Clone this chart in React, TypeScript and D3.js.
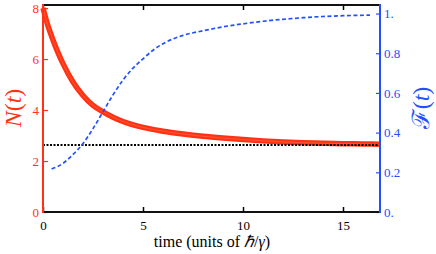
import React, { useEffect, useRef } from "react";
import * as d3 from "d3";

// N(t)
const nTimes = [0, 0.25, 0.5, 0.75, 1, 1.5, 2, 2.5, 3, 3.5, 4, 5, 6, 7, 8, 9, 10, 11, 12, 13, 14, 15, 16, 16.8];
const nValues = [8.0, 7.3, 6.75, 6.25, 5.82, 5.1, 4.57, 4.18, 3.93, 3.72, 3.55, 3.32, 3.17, 3.06, 2.97, 2.9, 2.84, 2.79, 2.75, 2.72, 2.7, 2.68, 2.67, 2.66];

// F(t), blue dashed curve
const fTimes = [0.43, 1, 1.5, 2, 2.5, 3, 3.5, 4, 4.5, 5, 5.5, 6, 7, 8, 9, 10, 11, 12, 13, 14, 15, 16.35];
const fValues = [0.217, 0.245, 0.29, 0.345, 0.42, 0.505, 0.59, 0.665, 0.725, 0.772, 0.815, 0.848, 0.89, 0.913, 0.933, 0.948, 0.961, 0.971, 0.979, 0.985, 0.989, 0.992];

// steady-state level (black dotted)
const nSteady = 2.63;

const xTicks = [0, 5, 10, 15];
const leftTicks = [0, 2, 4, 6, 8];
const rightTicks = [0, 0.2, 0.4, 0.6, 0.8, 1];
const rightTickLabels = ["0.", "0.2", "0.4", "0.6", "0.8", "1."];

const RED = "#ff3314";
const BLUE = "#2350ff";
const W = 436;
const H = 254;
const L = 43, R = 380, T = 5, B = 212;
const FONT = "'Liberation Serif', serif";

const App: React.FC = () => {
  const svgRef = useRef<SVGSVGElement>(null);

  useEffect(() => {
    const svg = d3.select(svgRef.current);
    svg.selectAll("*").remove();

    const x = d3.scaleLinear().domain([0, 16.85]).range([L, R]);
    const yL = d3.scaleLinear().domain([0, 8.12]).range([B, T]);
    const yR = d3.scaleLinear().domain([0, 1.043]).range([B, T]);

    const minorX = d3.range(0, 17, 1);

    // bottom axis
    const bottom = svg.append("g").attr("transform", `translate(0,${B})`);
    bottom.call(
      //@ts-ignore
      d3.axisBottom(x).tickValues(minorX).tickSize(-3).tickFormat(() => "")
    );
    bottom.call(
      //@ts-ignore
      d3.axisBottom(x).tickValues(xTicks).tickSize(-5).tickPadding(9).tickFormat((d) => `${d}`)
    );
    // top axis
    const top = svg.append("g").attr("transform", `translate(0,${T})`);
    top.call(
      //@ts-ignore
      d3.axisTop(x).tickValues(minorX).tickSize(-3).tickFormat(() => "")
    );
    top.call(
      //@ts-ignore
      d3.axisTop(x).tickValues(xTicks).tickSize(-5).tickFormat(() => "")
    );
    // left axis
    const left = svg.append("g").attr("transform", `translate(${L},0)`);
    left.call(
      //@ts-ignore
      d3.axisLeft(yL).tickValues(d3.range(0, 8.01, 0.5)).tickSize(-3).tickFormat(() => "")
    );
    left.call(
      //@ts-ignore
      d3.axisLeft(yL).tickValues(leftTicks).tickSize(-5).tickPadding(4).tickFormat((d) => `${d}`)
    );
    // right axis
    const right = svg.append("g").attr("transform", `translate(${R},0)`);
    right.call(
      //@ts-ignore
      d3.axisRight(yR).tickValues(d3.range(0, 1.001, 0.05)).tickSize(-2).tickFormat(() => "")
    );
    right.call(
      //@ts-ignore
      d3.axisRight(yR).tickValues(rightTicks).tickSize(-4).tickPadding(4)
        .tickFormat((d, i) => rightTickLabels[i])
    );

    svg.selectAll(".domain").remove();
    svg.selectAll("g").attr("font-family", null);
    svg.selectAll(".tick text").style("font-family", FONT).style("font-size", "13px");
    bottom.selectAll("line").attr("stroke", "#000").attr("stroke-width", 1.5);
    top.selectAll("line").attr("stroke", "#000").attr("stroke-width", 1.5);
    bottom.selectAll("text").attr("fill", "#000");
    left.selectAll("line").attr("stroke", RED).attr("stroke-width", 1.2);
    left.selectAll("text").attr("fill", RED);
    right.selectAll("line").attr("stroke", BLUE).attr("stroke-width", 1.2);
    right.selectAll("text").attr("fill", BLUE);

    // frame
    svg.append("line").attr("x1", L).attr("x2", R).attr("y1", T).attr("y2", T)
      .attr("stroke", "#111").attr("stroke-width", 2.2);
    svg.append("line").attr("x1", L).attr("x2", R).attr("y1", B).attr("y2", B)
      .attr("stroke", "#111").attr("stroke-width", 2.2);

    // curves
    const nLine = d3.line<number>()
      .x((_, i) => x(nTimes[i]))
      .y((d) => yL(d))
      .curve(d3.curveMonotoneX);
    svg.append("path").attr("d", nLine(nValues)).attr("fill", "none")
      .attr("stroke", RED).attr("stroke-width", 5.5);
    svg.append("path").attr("d", nLine(nValues)).attr("fill", "none")
      .attr("stroke", "#ff7a5a").attr("stroke-width", 0.6).attr("opacity", 0.8);

    svg.append("line").attr("x1", L).attr("x2", R)
      .attr("y1", yL(nSteady)).attr("y2", yL(nSteady))
      .attr("stroke", "#000").attr("stroke-width", 2).attr("stroke-dasharray", "2,1.5");

    const fLine = d3.line<number>()
      .x((_, i) => x(fTimes[i]))
      .y((d) => yR(d))
      .curve(d3.curveMonotoneX);
    svg.append("path").attr("d", fLine(fValues)).attr("fill", "none")
      .attr("stroke", BLUE).attr("stroke-width", 1.7).attr("stroke-dasharray", "4,2.5");

    // side spines
    svg.append("line").attr("x1", L).attr("x2", L).attr("y1", T - 1).attr("y2", B + 1)
      .attr("stroke", RED).attr("stroke-width", 2);
    svg.append("line").attr("x1", R).attr("x2", R).attr("y1", T - 1).attr("y2", B + 1)
      .attr("stroke", BLUE).attr("stroke-width", 2);

    // axis titles
    const nt = svg.append("text").attr("transform", "translate(21,108) rotate(-90)")
      .attr("text-anchor", "middle").style("font-family", FONT).style("font-size", "24px")
      .attr("fill", RED);
    nt.append("tspan").attr("font-style", "italic").text("N");
    nt.append("tspan").text("(");
    nt.append("tspan").attr("font-style", "italic").text("t");
    nt.append("tspan").text(")");

    const ft = svg.append("text").attr("transform", "translate(429,108) rotate(-90)")
      .attr("text-anchor", "middle").style("font-family", FONT).style("font-size", "24px")
      .attr("fill", BLUE);
    ft.append("tspan").text("ℱ");
    ft.append("tspan").text("(");
    ft.append("tspan").attr("font-style", "italic").text("t");
    ft.append("tspan").text(")");

    const xt = svg.append("text").attr("x", 212).attr("y", 247)
      .attr("text-anchor", "middle").style("font-family", FONT).style("font-size", "16px")
      .attr("fill", "#000");
    xt.append("tspan").text("time (units of ");
    xt.append("tspan").attr("font-style", "italic").text("ℏ");
    xt.append("tspan").text("/");
    xt.append("tspan").attr("font-style", "italic").text("γ");
    xt.append("tspan").text(")");
  }, []);

  return (
    <svg
      ref={svgRef}
      width={W}
      height={H}
      style={{ position: "absolute", left: 0, top: 0, background: "#fff" }}
    />
  );
};

export default App;
